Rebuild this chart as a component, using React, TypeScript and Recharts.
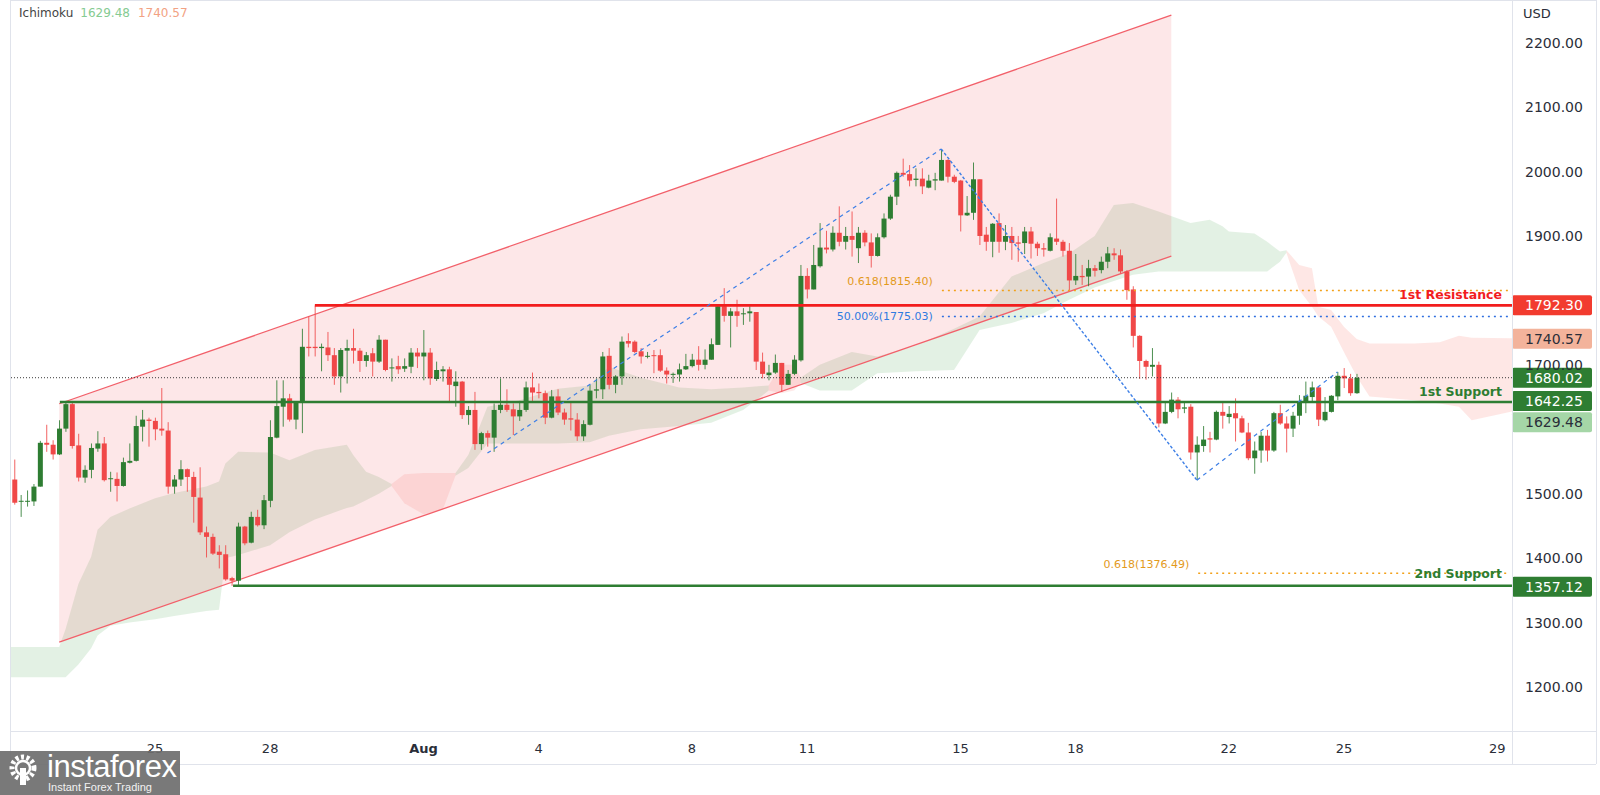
import React from 'react'
import {
  ComposedChart,
  Bar,
  Area,
  Line,
  XAxis,
  YAxis,
  ReferenceLine,
  ReferenceDot,
} from 'recharts'

// 4H candles from Jul 21 08:00, [open, high, low, close]
const candles: [number, number, number, number][] = [
  [1522, 1553, 1483, 1486], [1488, 1498, 1464, 1489], [1488, 1505, 1480, 1489], [1488, 1515, 1481, 1511],
  [1511, 1582, 1511, 1579], [1579, 1607, 1565, 1576], [1576, 1583, 1553, 1561], [1561, 1614, 1560, 1601],
  [1601, 1644, 1596, 1639], [1639, 1644, 1570, 1574], [1575, 1593, 1519, 1525], [1525, 1544, 1517, 1537],
  [1537, 1578, 1524, 1571], [1570, 1597, 1565, 1578], [1578, 1588, 1519, 1521], [1523, 1534, 1503, 1524],
  [1523, 1533, 1488, 1512], [1512, 1556, 1511, 1549], [1548, 1578, 1547, 1551], [1551, 1621, 1550, 1605],
  [1604, 1630, 1581, 1615], [1615, 1618, 1573, 1613], [1613, 1618, 1583, 1600], [1601, 1664, 1590, 1598],
  [1598, 1611, 1500, 1511], [1511, 1529, 1500, 1522], [1522, 1552, 1512, 1538], [1538, 1539, 1503, 1526],
  [1526, 1534, 1455, 1495], [1494, 1541, 1436, 1440], [1440, 1449, 1401, 1433], [1433, 1438, 1405, 1407],
  [1410, 1420, 1384, 1405], [1406, 1420, 1365, 1367], [1369, 1371, 1357, 1365], [1365, 1455, 1358, 1449],
  [1449, 1450, 1420, 1423], [1424, 1472, 1423, 1464], [1464, 1475, 1449, 1451], [1451, 1498, 1445, 1490],
  [1489, 1614, 1479, 1588], [1587, 1676, 1586, 1636], [1635, 1676, 1604, 1648], [1648, 1655, 1612, 1615],
  [1615, 1643, 1600, 1641], [1643, 1756, 1594, 1728], [1728, 1775, 1713, 1726], [1728, 1792, 1713, 1726],
  [1726, 1733, 1690, 1728], [1727, 1751, 1706, 1715], [1715, 1726, 1669, 1682], [1682, 1726, 1657, 1723],
  [1722, 1739, 1671, 1726], [1726, 1756, 1702, 1722], [1722, 1726, 1689, 1706], [1706, 1720, 1697, 1715],
  [1718, 1726, 1682, 1705], [1705, 1746, 1703, 1739], [1739, 1739, 1690, 1692], [1695, 1710, 1674, 1696],
  [1698, 1714, 1686, 1693], [1694, 1710, 1689, 1698], [1697, 1726, 1687, 1719], [1719, 1726, 1695, 1713],
  [1713, 1754, 1676, 1719], [1719, 1726, 1669, 1679], [1678, 1705, 1675, 1692], [1690, 1698, 1674, 1693],
  [1693, 1697, 1643, 1669], [1667, 1690, 1635, 1674], [1674, 1675, 1616, 1622], [1622, 1636, 1607, 1630],
  [1630, 1658, 1568, 1577], [1577, 1596, 1568, 1594], [1594, 1598, 1573, 1587], [1587, 1640, 1565, 1630],
  [1630, 1679, 1625, 1638], [1638, 1662, 1627, 1630], [1631, 1640, 1591, 1620], [1620, 1644, 1613, 1630],
  [1630, 1674, 1627, 1665], [1665, 1688, 1644, 1657], [1658, 1671, 1648, 1656], [1656, 1660, 1608, 1618],
  [1618, 1661, 1617, 1651], [1651, 1662, 1622, 1626], [1626, 1632, 1607, 1615], [1617, 1643, 1598, 1615],
  [1615, 1625, 1582, 1589], [1589, 1614, 1582, 1608], [1607, 1669, 1606, 1660], [1660, 1679, 1648, 1662],
  [1662, 1720, 1647, 1713], [1714, 1726, 1662, 1669], [1669, 1684, 1656, 1682], [1682, 1744, 1669, 1736],
  [1737, 1749, 1727, 1733], [1736, 1738, 1718, 1720], [1721, 1726, 1702, 1713], [1713, 1720, 1710, 1714],
  [1715, 1723, 1687, 1714], [1715, 1724, 1689, 1691], [1691, 1696, 1671, 1685], [1685, 1688, 1672, 1686],
  [1685, 1702, 1674, 1693], [1693, 1717, 1692, 1698], [1698, 1717, 1696, 1708], [1708, 1729, 1691, 1700],
  [1700, 1724, 1693, 1708], [1708, 1741, 1708, 1732], [1731, 1793, 1731, 1791], [1791, 1819, 1767, 1776],
  [1776, 1788, 1727, 1783], [1783, 1801, 1759, 1776], [1779, 1788, 1762, 1780], [1780, 1791, 1767, 1783],
  [1782, 1782, 1692, 1705], [1705, 1719, 1679, 1686], [1684, 1700, 1676, 1688], [1688, 1716, 1686, 1703],
  [1703, 1703, 1658, 1669], [1669, 1692, 1669, 1686], [1686, 1715, 1684, 1708], [1707, 1855, 1705, 1838],
  [1838, 1850, 1803, 1817], [1817, 1886, 1817, 1855], [1853, 1920, 1851, 1882], [1882, 1908, 1873, 1879],
  [1879, 1915, 1876, 1905], [1905, 1946, 1884, 1891], [1891, 1914, 1879, 1900], [1900, 1938, 1868, 1894],
  [1881, 1914, 1858, 1905], [1905, 1909, 1884, 1890], [1890, 1904, 1851, 1869], [1869, 1904, 1868, 1898],
  [1898, 1935, 1896, 1927], [1927, 1964, 1925, 1961], [1961, 2000, 1948, 1998], [1998, 2020, 1992, 1995],
  [1996, 2010, 1977, 1986], [1987, 2005, 1977, 1989], [1989, 2005, 1965, 1977], [1975, 1995, 1974, 1986],
  [1986, 1998, 1971, 1988], [1986, 2035, 1986, 2018], [2018, 2019, 1983, 1992], [1992, 1995, 1982, 1984],
  [1986, 1987, 1907, 1932], [1932, 1962, 1931, 1936], [1936, 2014, 1925, 1988], [1988, 1988, 1886, 1900],
  [1902, 1914, 1877, 1891], [1891, 1920, 1867, 1919], [1920, 1935, 1874, 1891], [1891, 1917, 1878, 1900],
  [1900, 1914, 1863, 1889], [1890, 1900, 1860, 1888], [1889, 1914, 1872, 1907], [1907, 1914, 1865, 1888],
  [1888, 1891, 1869, 1881], [1881, 1889, 1868, 1879], [1877, 1904, 1876, 1898], [1896, 1958, 1886, 1891],
  [1891, 1894, 1868, 1877], [1877, 1889, 1816, 1831], [1831, 1872, 1824, 1838], [1838, 1855, 1824, 1836],
  [1837, 1863, 1822, 1850], [1850, 1855, 1837, 1846], [1847, 1868, 1842, 1860], [1860, 1883, 1850, 1873],
  [1873, 1881, 1863, 1870], [1870, 1879, 1842, 1845], [1845, 1847, 1801, 1816], [1817, 1822, 1727, 1745],
  [1745, 1746, 1678, 1706], [1706, 1708, 1677, 1697], [1697, 1726, 1682, 1700], [1700, 1705, 1603, 1609],
  [1609, 1641, 1608, 1627], [1627, 1657, 1625, 1646], [1646, 1650, 1617, 1631], [1632, 1641, 1625, 1634],
  [1635, 1639, 1553, 1564], [1564, 1589, 1521, 1576], [1574, 1605, 1565, 1584], [1586, 1596, 1564, 1584],
  [1584, 1629, 1583, 1627], [1627, 1641, 1601, 1621], [1619, 1636, 1609, 1624], [1625, 1648, 1581, 1617],
  [1617, 1621, 1594, 1595], [1595, 1610, 1552, 1555], [1555, 1581, 1531, 1567], [1567, 1596, 1548, 1590],
  [1590, 1599, 1550, 1567], [1567, 1627, 1565, 1625], [1625, 1638, 1607, 1609], [1609, 1620, 1564, 1601],
  [1601, 1627, 1588, 1621], [1621, 1653, 1607, 1641], [1641, 1674, 1625, 1652], [1650, 1674, 1643, 1665],
  [1665, 1666, 1605, 1615], [1614, 1650, 1612, 1627], [1627, 1653, 1626, 1652], [1651, 1689, 1645, 1683],
  [1683, 1695, 1664, 1679], [1679, 1686, 1652, 1656], [1656, 1686, 1655, 1680],
]

const dateTicks = [23, 41, 65, 83, 107, 125, 149, 167, 191, 209, 233]
const dateLabels = ['25', '28', 'Aug', '4', '8', '11', '15', '18', '22', '25', '29']
// 1600 and 1800 sit under the price tags
const priceTicks = [1200, 1300, 1400, 1500, 1700, 1900, 2000, 2100, 2200]

// ichimoku cloud, [slot, low, high]
const cloudGreen1: [number, number, number][] = [
  [0, 1215, 1262], [8, 1215, 1262], [9, 1215, 1290], [11, 1235, 1360], [13, 1260, 1402], [14, 1280, 1444],
  [16, 1295, 1464], [19, 1300, 1477], [23, 1305, 1493], [26, 1310, 1501], [31, 1318, 1511], [33, 1320, 1519],
  [34, 1400, 1547], [36, 1405, 1565], [41, 1420, 1564], [44, 1440, 1552], [48, 1460, 1568], [53, 1478, 1576],
  [54, 1480, 1560], [56, 1490, 1534], [58, 1500, 1526], [60, 1512, 1515],
]
const cloudRed1: [number, number, number][] = [
  [60, 1512, 1515], [62, 1485, 1530], [65, 1468, 1532], [68, 1475, 1532], [70, 1528, 1532],
]
const cloudGreen2: [number, number, number][] = [
  [70, 1528, 1532], [72, 1540, 1560], [75, 1578, 1635], [80, 1578, 1645], [86, 1578, 1663], [91, 1580, 1668],
  [94, 1590, 1697], [99, 1600, 1680], [105, 1605, 1665], [110, 1610, 1662], [115, 1630, 1665], [119, 1660, 1668],
]
const cloudRed2: [number, number, number][] = [
  [119, 1660, 1668], [121, 1656, 1700], [123, 1660, 1700], [124, 1672, 1680],
]
const cloudGreen3: [number, number, number][] = [
  [124, 1672, 1680], [127, 1660, 1700], [132, 1660, 1720], [136, 1687, 1713], [142, 1690, 1730], [148, 1692, 1756],
  [152, 1754, 1775], [157, 1765, 1837], [162, 1780, 1858], [166, 1801, 1873], [170, 1820, 1900], [173, 1830, 1948],
  [176, 1840, 1951], [180, 1845, 1938], [185, 1845, 1920], [188, 1845, 1925], [190, 1845, 1915], [191, 1845, 1907],
  [195, 1845, 1904], [197, 1845, 1891], [199, 1860, 1876], [200, 1874, 1878],
]
const cloudRed3: [number, number, number][] = [
  [200, 1874, 1878], [202, 1816, 1855], [204, 1790, 1850], [205, 1775, 1790], [207, 1759, 1785], [209, 1720, 1759],
  [211, 1682, 1740], [213, 1651, 1733], [220, 1645, 1733], [224, 1640, 1735], [227, 1635, 1745], [229, 1614, 1742],
  [236, 1629, 1741],
]

// ascending channel [slot, lower, upper]
const channel: [number, number, number][] = [[8, 1269.6, 1639.6], [182, 1868.8, 2242.8]]

// swing lines [slot, price]
const swingUp1: [number, number][] = [[75, 1563], [146, 2035]]
const swingDown: [number, number][] = [[146, 2035], [186, 1521]]
const swingUp2: [number, number][] = [[186, 1521], [208, 1689]]

const resistance1 = 1792.3
const support1 = 1642.25
const support2 = 1357.12
const fibHigh618 = 1815.4
const fibHigh50 = 1775.03
const fibLow618 = 1376.49
const lastPrice = 1680.02
const spanA = 1629.48
const spanB = 1740.57

const XMIN = 0.3
const XMAX = 235.3

const UP = '#2e7d32'
const DOWN = '#f04848'
const FONT = 'DejaVu Sans'

type Row = Record<string, any>

const rows: Row[] = Array.from({ length: 237 }, (_, n) => ({ n }))
candles.forEach((c, i) => {
  rows[i + 1].ohlc = c
  rows[i + 1].hl = [c[2], c[1]]
})
const clouds: [string, [number, number, number][]][] = [
  ['g1', cloudGreen1], ['r1', cloudRed1], ['g2', cloudGreen2],
  ['r2', cloudRed2], ['g3', cloudGreen3], ['r3', cloudRed3],
]
for (const [key, pts] of clouds) for (const [n, lo, hi] of pts) rows[n][key] = [lo, hi]
for (const [n, lo, hi] of channel) rows[n].chan = [lo, hi]
for (const [n, v] of swingUp1) rows[n].sw1 = v
for (const [n, v] of swingDown) rows[n].sw2 = v
for (const [n, v] of swingUp2) rows[n].sw3 = v

function Candle(props: any) {
  const { x, y, width, height, payload } = props
  if (!payload || !payload.ohlc) return null
  const [o, h, l, c] = payload.ohlc
  const top = Math.min(y, y + height)
  const hh = Math.abs(height)
  const ppu = h === l ? 0 : hh / (h - l)
  const yo = top + (h - o) * ppu
  const yc = top + (h - c) * ppu
  const color = c >= o ? UP : DOWN
  const cx = x + width / 2
  return (
    <g>
      <line x1={cx} x2={cx} y1={top} y2={top + hh} stroke={color} strokeWidth={1} strokeOpacity={0.85} />
      <rect x={x} y={Math.min(yo, yc)} width={width} height={Math.max(1, Math.abs(yc - yo))} fill={color} />
    </g>
  )
}

function DateTick({ x, y, payload }: any) {
  const label = dateLabels[dateTicks.indexOf(payload.value)] ?? ''
  return (
    <text x={x} y={y + 17} textAnchor="middle" dominantBaseline="central" fontSize={13}
      fontFamily={FONT} fontWeight={label === 'Aug' ? 700 : 400} fill="#2a2e39">
      {label}
    </text>
  )
}

function PriceTick({ x, y, payload }: any) {
  return (
    <text x={x + 13} y={y} dominantBaseline="central" fontSize={14} fontFamily={FONT} fill="#2a2e39">
      {Number(payload.value).toFixed(2)}
    </text>
  )
}

const tagStyle: Record<string, { bg: string; fg: string; dy: number }> = {
  r1: { bg: '#f23b2f', fg: '#ffffff', dy: 0 },
  spanB: { bg: '#f3b39b', fg: '#2a2e39', dy: 0 },
  last: { bg: '#2e7d32', fg: '#ffffff', dy: 0 },
  s1: { bg: '#2e7d32', fg: '#ffffff', dy: -1 },
  spanA: { bg: '#a5d6a7', fg: '#2a2e39', dy: 12 },
  s2: { bg: '#2e7d32', fg: '#ffffff', dy: 1 },
}

function PriceTag({ viewBox, value, style }: any) {
  if (!viewBox) return null
  const y = viewBox.y + style.dy
  return (
    <g>
      <rect x={1512} y={y - 10} width={80} height={20} rx={2} fill={style.bg} />
      <text x={1525} y={y} dominantBaseline="central" fontSize={14} fontFamily={FONT} fill={style.fg}>
        {value.toFixed(2)}
      </text>
    </g>
  )
}

function Note({ viewBox, text, color, dx, dy, size, bold }: any) {
  if (!viewBox) return null
  return (
    <text x={viewBox.x + dx} y={viewBox.y + dy} textAnchor="end" dominantBaseline="central"
      fontSize={size} fontWeight={bold ? 700 : 400} fontFamily={FONT} fill={color}>
      {text}
    </text>
  )
}

const tags: [string, number][] = [
  ['r1', resistance1], ['spanB', spanB], ['last', lastPrice],
  ['s1', support1], ['spanA', spanA], ['s2', support2],
]

const frame = '#e0e3eb'

export default function App() {
  return (
    <div style={{ position: 'absolute', left: 0, top: 0, width: 1600, height: 795, background: '#fff', fontFamily: FONT, overflow: 'hidden' }}>
      <ComposedChart width={1600} height={795} data={rows} margin={{ top: 1, right: 4, bottom: 31, left: 10 }}>
        <XAxis dataKey="n" type="number" domain={[XMIN, XMAX]} allowDataOverflow ticks={dateTicks} interval={0}
          tick={<DateTick />} tickLine={false} axisLine={false} tickSize={0} tickMargin={0} height={33} />
        <YAxis orientation="right" type="number" domain={[1131.7, 2264.7]} allowDataOverflow ticks={priceTicks}
          interval={0} tick={<PriceTick />} tickLine={false} axisLine={false} tickSize={0} tickMargin={0} width={84} />

        <Area dataKey="g1" connectNulls stroke="none" fill="rgba(67,160,71,0.15)" fillOpacity={1} isAnimationActive={false} />
        <Area dataKey="r1" connectNulls stroke="none" fill="rgba(244,67,54,0.11)" fillOpacity={1} isAnimationActive={false} />
        <Area dataKey="g2" connectNulls stroke="none" fill="rgba(67,160,71,0.15)" fillOpacity={1} isAnimationActive={false} />
        <Area dataKey="r2" connectNulls stroke="none" fill="rgba(244,67,54,0.11)" fillOpacity={1} isAnimationActive={false} />
        <Area dataKey="g3" connectNulls stroke="none" fill="rgba(67,160,71,0.15)" fillOpacity={1} isAnimationActive={false} />
        <Area dataKey="r3" connectNulls stroke="none" fill="rgba(244,67,54,0.13)" fillOpacity={1} isAnimationActive={false} />

        <Area dataKey="chan" connectNulls type="linear" stroke="#f2606a" strokeWidth={1.3}
          fill="rgba(242,54,69,0.12)" fillOpacity={1} isAnimationActive={false} />

        <ReferenceLine y={lastPrice} stroke="#3a3a3a" strokeDasharray="1 2" strokeWidth={1} />
        <ReferenceLine segment={[{ x: 146.1, y: fibHigh618 }, { x: 234.8, y: fibHigh618 }]} stroke="#f2a11a" strokeDasharray="2 4" strokeWidth={1.6} />
        <ReferenceLine segment={[{ x: 146.1, y: fibHigh50 }, { x: 234.8, y: fibHigh50 }]} stroke="#2f6fe0" strokeDasharray="2 4" strokeWidth={1.6} />
        <ReferenceLine segment={[{ x: 186.2, y: fibLow618 }, { x: 234.8, y: fibLow618 }]} stroke="#f2a11a" strokeDasharray="2 4" strokeWidth={1.6} />
        <ReferenceLine segment={[{ x: 48, y: resistance1 }, { x: XMAX, y: resistance1 }]} stroke="#f21d1d" strokeWidth={2.6} />
        <ReferenceLine segment={[{ x: 8.1, y: support1 }, { x: XMAX, y: support1 }]} stroke="#2e7d32" strokeWidth={2.6} />
        <ReferenceLine segment={[{ x: 35.2, y: support2 }, { x: XMAX, y: support2 }]} stroke="#2e7d32" strokeWidth={2.6} />

        <Bar dataKey="hl" barSize={5} shape={<Candle />} isAnimationActive={false} />

        <Line dataKey="sw1" connectNulls dot={false} type="linear" stroke="#3d7fe6" strokeWidth={1.2} strokeDasharray="4 4" isAnimationActive={false} />
        <Line dataKey="sw2" connectNulls dot={false} type="linear" stroke="#3d7fe6" strokeWidth={1.4} strokeDasharray="3 2" isAnimationActive={false} />
        <Line dataKey="sw3" connectNulls dot={false} type="linear" stroke="#3d7fe6" strokeWidth={1.2} strokeDasharray="4 4" isAnimationActive={false} />

        <ReferenceDot x={146.1} y={fibHigh618} r={0} fill="none" stroke="none"
          label={(p: any) => <Note viewBox={p.viewBox} text="0.618(1815.40)" color="#e39a1c" dx={-9} dy={-9} size={11} />} />
        <ReferenceDot x={146.1} y={fibHigh50} r={0} fill="none" stroke="none"
          label={(p: any) => <Note viewBox={p.viewBox} text="50.00%(1775.03)" color="#2f7be0" dx={-9} dy={0} size={11} />} />
        <ReferenceDot x={186.2} y={fibLow618} r={0} fill="none" stroke="none"
          label={(p: any) => <Note viewBox={p.viewBox} text="0.618(1376.49)" color="#e39a1c" dx={-9} dy={-9} size={11} />} />
        <ReferenceDot x={XMAX} y={resistance1} r={0} fill="none" stroke="none"
          label={(p: any) => <Note viewBox={p.viewBox} text="1st Resistance" color="#f21d1d" dx={-10} dy={-11} size={12.5} bold />} />
        <ReferenceDot x={XMAX} y={support1} r={0} fill="none" stroke="none"
          label={(p: any) => <Note viewBox={p.viewBox} text="1st Support" color="#2e7d32" dx={-10} dy={-11} size={12.5} bold />} />
        <ReferenceDot x={XMAX} y={support2} r={0} fill="none" stroke="none"
          label={(p: any) => <Note viewBox={p.viewBox} text="2nd Support" color="#2e7d32" dx={-10} dy={-12} size={12.5} bold />} />

        {tags.map(([key, v]) => (
          <ReferenceDot key={key} x={XMAX} y={v} r={0} fill="none" stroke="none"
            label={(p: any) => <PriceTag viewBox={p.viewBox} value={v} style={tagStyle[key]} />} />
        ))}
      </ComposedChart>

      {/* panel frame */}
      <div style={{ position: 'absolute', left: 10, top: 0, width: 1, height: 764, background: frame }} />
      <div style={{ position: 'absolute', left: 10, top: 0, width: 1586, height: 1, background: frame }} />
      <div style={{ position: 'absolute', left: 1512, top: 0, width: 1, height: 764, background: frame }} />
      <div style={{ position: 'absolute', left: 1596, top: 0, width: 1, height: 764, background: frame }} />
      <div style={{ position: 'absolute', left: 10, top: 731, width: 1586, height: 1, background: frame }} />
      <div style={{ position: 'absolute', left: 10, top: 764, width: 1586, height: 1, background: frame }} />

      <div style={{ position: 'absolute', left: 1523, top: 6, fontSize: 13, color: '#2a2e39', lineHeight: '16px' }}>USD</div>

      <div style={{ position: 'absolute', left: 19, top: 5, fontSize: 12, lineHeight: '16px', whiteSpace: 'nowrap' }}>
        <span style={{ color: '#444' }}>Ichimoku</span>
        <span style={{ color: '#86cb92', marginLeft: 7 }}>{spanA.toFixed(2)}</span>
        <span style={{ color: '#f2a283', marginLeft: 8 }}>{spanB.toFixed(2)}</span>
      </div>

      {/* watermark */}
      <div style={{ position: 'absolute', left: 0, top: 751, width: 180, height: 44, background: 'rgba(110,110,110,0.92)' }}>
        <svg width={44} height={44} style={{ position: 'absolute', left: 2, top: 0 }}>
          <circle cx={21} cy={17} r={11} fill="none" stroke="#fff" strokeWidth={5} strokeDasharray="3 2.5" />
          <circle cx={21} cy={17} r={7} fill="none" stroke="#fff" strokeWidth={2.5} />
          <rect x={18} y={17} width={6} height={17} fill="#fff" />
        </svg>
        <div style={{ position: 'absolute', left: 47, top: 1, fontFamily: 'Liberation Sans Narrow, Liberation Sans, sans-serif', fontSize: 31, color: '#fff', lineHeight: '30px', letterSpacing: -0.5 }}>instaforex</div>
        <div style={{ position: 'absolute', left: 48, top: 30, fontFamily: 'Liberation Sans Narrow, Liberation Sans, sans-serif', fontSize: 11, color: '#f2f2f2', lineHeight: '12px' }}>Instant Forex Trading</div>
      </div>
    </div>
  )
}
